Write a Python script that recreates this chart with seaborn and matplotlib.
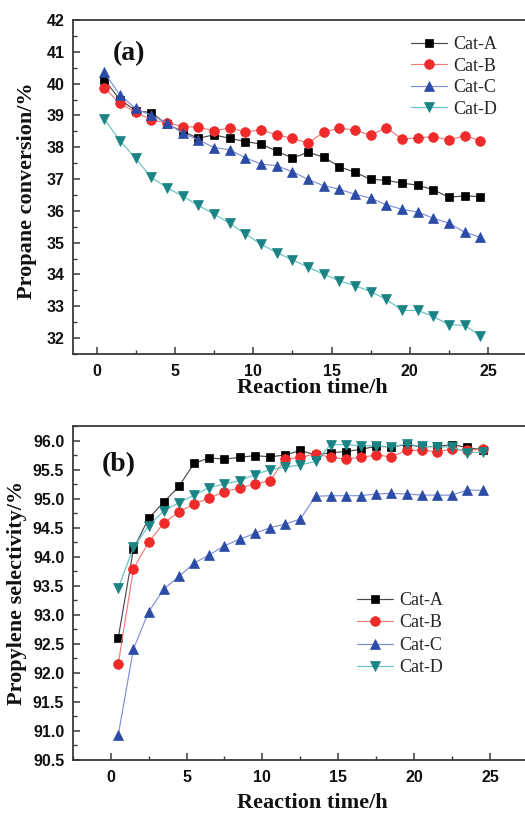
import matplotlib
matplotlib.use("Agg")
import matplotlib.pyplot as plt
from matplotlib.ticker import MultipleLocator, FormatStrFormatter
import seaborn as sns

# Sampling times on stream (h)
time_h = [0.5, 1.5, 2.5, 3.5, 4.5, 5.5, 6.5, 7.5, 8.5, 9.5, 10.5, 11.5, 12.5,
          13.5, 14.5, 15.5, 16.5, 17.5, 18.5, 19.5, 20.5, 21.5, 22.5, 23.5, 24.5]
catalysts = ["Cat-A", "Cat-B", "Cat-C", "Cat-D"]

# Propane conversion (%)
conv_a = [40.12, 39.50, 39.15, 39.09, 38.72, 38.50, 38.28, 38.39, 38.28, 38.18, 38.10, 37.88, 37.66,
          37.84, 37.69, 37.39, 37.21, 36.99, 36.96, 36.87, 36.81, 36.66, 36.43, 36.47, 36.45]
conv_b = [39.87, 39.38, 39.10, 38.86, 38.77, 38.65, 38.63, 38.52, 38.60, 38.49, 38.54, 38.39, 38.28,
          38.13, 38.47, 38.60, 38.54, 38.37, 38.62, 38.25, 38.30, 38.33, 38.23, 38.36, 38.21]
conv_c = [40.35, 39.64, 39.22, 39.00, 38.77, 38.44, 38.23, 37.99, 37.92, 37.67, 37.47, 37.42, 37.23,
          36.99, 36.79, 36.68, 36.52, 36.40, 36.19, 36.05, 35.96, 35.77, 35.61, 35.33, 35.17]
conv_d = [38.88, 38.21, 37.65, 37.05, 36.73, 36.46, 36.17, 35.90, 35.61, 35.28, 34.95, 34.69, 34.46,
          34.23, 34.01, 33.80, 33.65, 33.46, 33.22, 32.87, 32.87, 32.68, 32.42, 32.40, 32.07]

# Propylene selectivity (%)
sel_a = [92.60, 94.13, 94.66, 94.94, 95.21, 95.61, 95.70, 95.68, 95.71, 95.74, 95.72, 95.75, 95.83,
         95.75, 95.79, 95.81, 95.85, 95.90, 95.89, 95.93, 95.89, 95.90, 95.93, 95.88, 95.84]
sel_b = [92.15, 93.79, 94.25, 94.58, 94.77, 94.91, 95.01, 95.12, 95.18, 95.25, 95.31, 95.68, 95.71,
         95.77, 95.71, 95.68, 95.71, 95.75, 95.72, 95.83, 95.83, 95.81, 95.85, 95.83, 95.85]
sel_c = [90.93, 92.41, 93.05, 93.44, 93.66, 93.89, 94.03, 94.19, 94.30, 94.40, 94.50, 94.56, 94.65,
         95.04, 95.05, 95.05, 95.05, 95.08, 95.09, 95.08, 95.06, 95.06, 95.06, 95.15, 95.14]
sel_d = [93.46, 94.16, 94.53, 94.79, 94.93, 95.06, 95.19, 95.25, 95.31, 95.41, 95.50, 95.54, 95.58,
         95.64, 95.93, 95.93, 95.91, 95.91, 95.89, 95.94, 95.90, 95.89, 95.89, 95.79, 95.80]

sns.set_theme(style="ticks")
plt.rcParams["font.family"] = ["Liberation Sans", "DejaVu Sans"]
plt.rcParams["axes.facecolor"] = "white"

marker_colors = {"Cat-A": "#000000", "Cat-B": "#EE2A2A", "Cat-C": "#2C4BA6", "Cat-D": "#1A8484"}
line_colors = {"Cat-A": "#4A4A4A", "Cat-B": "#F27A7A", "Cat-C": "#8090D8", "Cat-D": "#66C2C2"}
markers = {"Cat-A": "s", "Cat-B": "o", "Cat-C": "^", "Cat-D": "v"}
msizes = {"Cat-A": 6.0, "Cat-B": 7.0, "Cat-C": 7.5, "Cat-D": 7.5}

serif = ["Liberation Serif", "DejaVu Serif"]
sans = ["Liberation Sans", "DejaVu Sans"]

fig = plt.figure(figsize=(5.25, 8.14), dpi=100)
ax1 = fig.add_axes([73 / 525, 1 - 354 / 814, 1 - 73 / 525, 334 / 814])
ax2 = fig.add_axes([72.7 / 525, 1 - 760 / 814, 1 - 72.7 / 525, 334 / 814])


def draw_series(ax, series):
    for name, vals in zip(catalysts, series):
        sns.lineplot(x=time_h, y=vals, ax=ax, color=line_colors[name], linewidth=0.85,
                     marker=markers[name], markersize=msizes[name],
                     markerfacecolor=marker_colors[name], markeredgecolor=marker_colors[name],
                     markeredgewidth=0.5, label=name)


def style_axes(ax, xlim, ylim, ymajor, yminor, yfmt, xlab_pos, ylab_pos, ylabel):
    ax.set_xlim(*xlim)
    ax.set_ylim(*ylim)
    ax.xaxis.set_major_locator(MultipleLocator(5))
    ax.xaxis.set_minor_locator(MultipleLocator(2.5))
    ax.yaxis.set_major_locator(MultipleLocator(ymajor))
    ax.yaxis.set_minor_locator(MultipleLocator(yminor))
    if yfmt:
        ax.yaxis.set_major_formatter(FormatStrFormatter(yfmt))
    ax.spines["right"].set_visible(False)
    for side in ("top", "left", "bottom"):
        ax.spines[side].set_color("#3a3a3a")
        ax.spines[side].set_linewidth(1.3)
    ax.tick_params(which="both", direction="in", top=False, right=False, color="#3a3a3a")
    ax.tick_params(which="major", length=5, width=1.1)
    ax.tick_params(which="minor", length=3, width=1.0)
    ax.tick_params(axis="x", pad=7)
    ax.tick_params(axis="y", pad=6)
    for lab in ax.get_xticklabels() + ax.get_yticklabels():
        lab.set_fontfamily(sans)
        lab.set_fontweight("bold")
        lab.set_fontsize(11.5)
        lab.set_color("#111111")
    ax.set_xlabel("Reaction time/h", family=serif, fontweight="bold", fontsize=16, color="#111111")
    ax.set_ylabel(ylabel, family=serif, fontweight="bold", fontsize=16, color="#111111")
    ax.xaxis.set_label_coords(*xlab_pos)
    ax.yaxis.set_label_coords(*ylab_pos)
    ax.grid(False)


draw_series(ax1, [conv_a, conv_b, conv_c, conv_d])
style_axes(ax1, (-1.5, 27.35), (31.5, 42), 1, 0.5, None, (0.53, -0.072), (-0.08, 0.49),
           "Propane conversion/%")
ax1.legend(loc="upper left", bbox_to_anchor=(0.748, 0.952), frameon=False, borderpad=0,
           borderaxespad=0, handlelength=2.0, handletextpad=0.35, labelspacing=0.25,
           prop={"family": serif, "size": 13})
ax1.text(0.088, 0.90, "(a)", transform=ax1.transAxes, family=serif, fontweight="bold",
         fontsize=20, ha="left", va="center", color="#111111")

draw_series(ax2, [sel_a, sel_b, sel_c, sel_d])
style_axes(ax2, (-2.5, 27.3), (90.5, 96.25), 0.5, 0.25, "%.1f", (0.53, -0.099), (-0.10, 0.5),
           "Propylene selectivity/%")
ax2.legend(loc="upper left", bbox_to_anchor=(0.629, 0.503), frameon=False, borderpad=0,
           borderaxespad=0, handlelength=2.0, handletextpad=0.35, labelspacing=0.3,
           prop={"family": serif, "size": 13})
ax2.text(0.065, 0.885, "(b)", transform=ax2.transAxes, family=serif, fontweight="bold",
         fontsize=20, ha="left", va="center", color="#111111")

fig.savefig("out.png", dpi=100, facecolor="white")
